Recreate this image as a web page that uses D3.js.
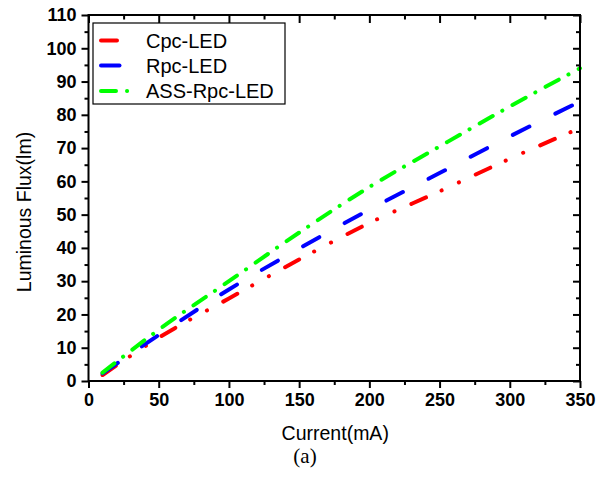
<!DOCTYPE html>
<html>
<head>
<meta charset="utf-8">
<script src="https://cdn.jsdelivr.net/npm/d3@7"></script>
<style>
  body { margin: 0; background: #fff; }
  svg { display: block; }
</style>
</head>
<body>
<svg id="chart" width="607" height="479"></svg>
<script>
// values
const currents = [10, 50, 100, 150, 200, 250, 300, 350];
const cpcLed = [1.8, 13, 24.8, 36.5, 47.5, 57, 66.8, 76];
const rpcLed = [2.3, 13.8, 27.5, 39.8, 51.5, 62.5, 73.5, 84];
const assRpcLed = [2.5, 15.4, 30, 44.6, 58.3, 70.5, 82.5, 94];

const xMajor = [0, 50, 100, 150, 200, 250, 300, 350];
const xMinor = [25, 75, 125, 175, 225, 275, 325];
const yMajor = [0, 10, 20, 30, 40, 50, 60, 70, 80, 90, 100, 110];
const yMinor = [5, 15, 25, 35, 45, 55, 65, 75, 85, 95, 105];

const seriesNames = ["Cpc-LED", "Rpc-LED", "ASS-Rpc-LED"];
const seriesValues = [cpcLed, rpcLed, assRpcLed];
const seriesColors = ["#ff0000", "#0000ff", "#00ff00"];
const seriesDash = ["16,17,0.1,19,0.1,18.5", "18.5,29", "15,11,0.1,11.6"];

const svg = d3.select("#chart");
const pLeft = 88.5, pRight = 580, pTop = 15, pBottom = 381;

const x = d3.scaleLinear().domain([0, 350]).range([pLeft, pRight]);
const y = d3.scaleLinear().domain([0, 110]).range([pBottom, pTop]);

const font = "'Liberation Sans', Arial, sans-serif";

// lines
const line = d3.line()
  .x(d => x(d[0]))
  .y(d => y(d[1]))
  .curve(d3.curveMonotoneX);

seriesValues.forEach((vals, i) => {
  svg.append("path")
    .datum(currents.map((c, k) => [c, vals[k]]))
    .attr("d", line)
    .attr("fill", "none")
    .attr("stroke", seriesColors[i])
    .attr("stroke-width", 4)
    .attr("stroke-linecap", "round")
    .attr("stroke-dasharray", seriesDash[i]);
});

// axes
function styleAxis(g) {
  g.select(".domain").remove();
  g.selectAll("line").attr("stroke", "#000").attr("stroke-width", 2);
  g.selectAll("text")
    .style("font-family", font)
    .style("font-weight", "bold")
    .style("font-size", "18px")
    .attr("fill", "#000");
}

svg.append("g")
  .attr("transform", `translate(0,${pBottom})`)
  .call(d3.axisBottom(x).tickValues(xMajor).tickSize(7).tickPadding(5).tickFormat(d3.format("d")))
  .call(styleAxis);
svg.append("g")
  .attr("transform", `translate(0,${pBottom})`)
  .call(d3.axisBottom(x).tickValues(xMinor).tickSize(4).tickFormat(""))
  .call(styleAxis);

svg.append("g")
  .attr("transform", `translate(${pLeft},0)`)
  .call(d3.axisLeft(y).tickValues(yMajor).tickSize(7).tickPadding(5).tickFormat(d3.format("d")))
  .call(styleAxis);
svg.append("g")
  .attr("transform", `translate(${pLeft},0)`)
  .call(d3.axisLeft(y).tickValues(yMinor).tickSize(4).tickFormat(""))
  .call(styleAxis);

// top and right: ticks pointing inward
svg.append("g")
  .attr("transform", `translate(0,${pTop})`)
  .call(d3.axisBottom(x).tickValues(xMajor).tickSize(8).tickFormat(""))
  .call(styleAxis);
svg.append("g")
  .attr("transform", `translate(0,${pTop})`)
  .call(d3.axisBottom(x).tickValues(xMinor).tickSize(4.5).tickFormat(""))
  .call(styleAxis);
svg.append("g")
  .attr("transform", `translate(${pRight},0)`)
  .call(d3.axisLeft(y).tickValues(yMajor).tickSize(7).tickFormat(""))
  .call(styleAxis);
svg.append("g")
  .attr("transform", `translate(${pRight},0)`)
  .call(d3.axisLeft(y).tickValues(yMinor).tickSize(4).tickFormat(""))
  .call(styleAxis);

// frame
svg.append("rect")
  .attr("x", pLeft).attr("y", pTop)
  .attr("width", pRight - pLeft).attr("height", pBottom - pTop)
  .attr("fill", "none")
  .attr("stroke", "#000")
  .attr("stroke-width", 2);

// titles
svg.append("text")
  .attr("x", (pLeft + pRight) / 2 + 1)
  .attr("y", 440)
  .attr("text-anchor", "middle")
  .style("font-family", font)
  .style("font-size", "19.5px")
  .text("Current(mA)");

svg.append("text")
  .attr("transform", "translate(31,212) rotate(-90)")
  .attr("text-anchor", "middle")
  .style("font-family", font)
  .style("font-size", "19.5px")
  .text("Luminous Flux(lm)");

svg.append("text")
  .attr("x", 305)
  .attr("y", 463)
  .attr("text-anchor", "middle")
  .style("font-family", "'Liberation Serif', 'Times New Roman', serif")
  .style("font-size", "21px")
  .text("(a)");

// legend
const legend = svg.append("g");
legend.append("rect")
  .attr("x", 93).attr("y", 23)
  .attr("width", 192).attr("height", 81)
  .attr("fill", "#fff")
  .attr("stroke", "#000")
  .attr("stroke-width", 1.2);

const rowY = [40.5, 65.5, 91];
seriesNames.forEach((name, i) => {
  legend.append("line")
    .attr("x1", 101).attr("x2", 134)
    .attr("y1", rowY[i]).attr("y2", rowY[i])
    .attr("stroke", seriesColors[i])
    .attr("stroke-width", 4)
    .attr("stroke-linecap", "round")
    .attr("stroke-dasharray", seriesDash[i]);
  legend.append("text")
    .attr("x", 146)
    .attr("y", rowY[i] + 7)
    .style("font-family", font)
    .style("font-size", "20px")
    .text(name);
});
</script>
</body>
</html>
